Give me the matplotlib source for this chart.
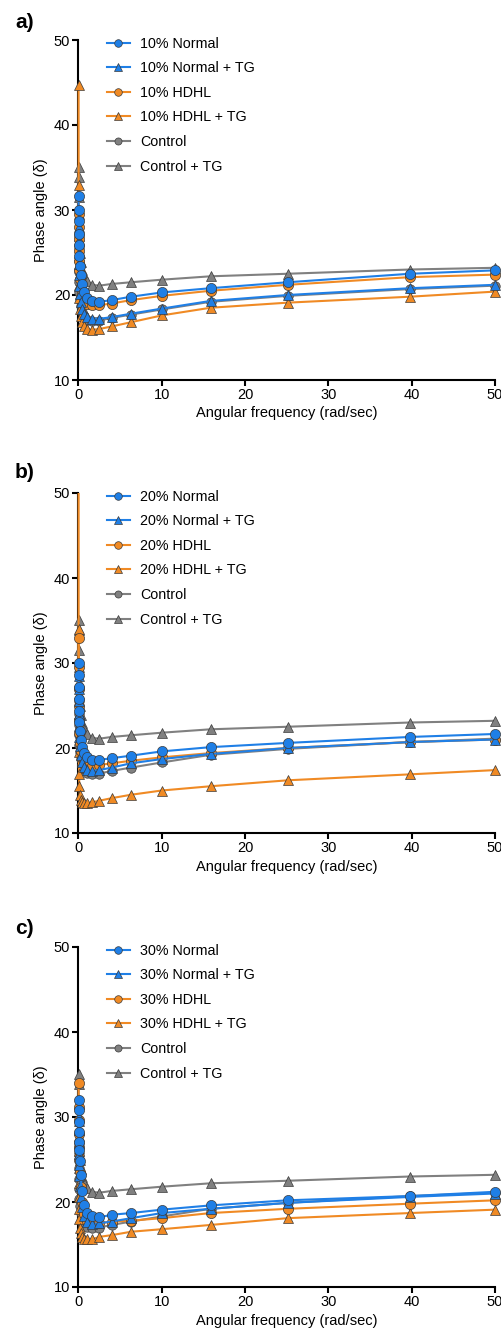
import matplotlib
matplotlib.use("Agg")
import matplotlib.pyplot as plt
from matplotlib.patches import Rectangle

plt.rcParams['font.family'] = ['Liberation Sans', 'DejaVu Sans']

# ---------------- data ----------------
freq = [0.01, 0.0158, 0.0251, 0.0398, 0.0631, 0.1, 0.158, 0.251, 0.398, 0.631,
        1.0, 1.585, 2.512, 3.981, 6.31, 10.0, 15.85, 25.12, 39.81, 50.0]

control = [27.0, 25.5, 24.0, 22.7, 21.5, 20.4, 19.5, 18.7, 18.0, 17.5,
           17.1, 17.0, 17.0, 17.3, 17.7, 18.3, 19.2, 19.9, 20.7, 21.1]
control_tg = [35.1, 33.9, 31.5, 29.5, 27.8, 26.3, 25.0, 23.9, 23.0, 22.2,
              21.6, 21.2, 21.1, 21.3, 21.5, 21.8, 22.2, 22.5, 23.0, 23.2]

# panel a (10 %)
a_normal = [31.6, 30.0, 28.7, 27.2, 25.9, 24.6, 23.4, 22.3, 21.3, 20.4,
            19.7, 19.3, 19.2, 19.4, 19.8, 20.3, 20.8, 21.5, 22.5, 22.9]
a_normal_tg = [28.0, 26.5, 25.0, 23.6, 22.3, 21.1, 20.1, 19.2, 18.4, 17.8,
               17.4, 17.2, 17.2, 17.4, 17.8, 18.4, 19.3, 20.0, 20.8, 21.2]
a_hdhl = [29.5, 28.0, 26.6, 25.2, 24.0, 22.9, 21.9, 21.0, 20.2, 19.5,
          19.0, 18.8, 18.8, 19.0, 19.4, 19.9, 20.5, 21.2, 22.1, 22.4]
a_hdhl_tg = [44.7, 33.0, 27.0, 23.5, 21.2, 19.6, 18.4, 17.5, 16.8, 16.3,
             16.0, 15.9, 16.0, 16.3, 16.8, 17.6, 18.5, 19.1, 19.8, 20.4]

# panel b (20 %)
b_normal = [30.0, 28.6, 27.2, 25.8, 24.4, 23.1, 22.0, 21.0, 20.1, 19.4,
            18.9, 18.6, 18.6, 18.8, 19.1, 19.6, 20.1, 20.6, 21.3, 21.65]
b_normal_tg = [28.5, 27.0, 25.5, 24.0, 22.6, 21.3, 20.2, 19.2, 18.4, 17.8,
               17.4, 17.3, 17.4, 17.7, 18.2, 18.7, 19.3, 20.0, 20.7, 21.0]
b_hdhl = [33.0, 29.5, 27.0, 25.0, 23.3, 21.8, 20.6, 19.6, 18.8, 18.3,
          18.0, 17.9, 18.0, 18.2, 18.5, 18.9, 19.4, 20.0, 20.7, 21.0]
b_hdhl_tg = [60.0, 34.0, 24.0, 19.5, 17.0, 15.5, 14.5, 13.9, 13.6, 13.5,
             13.5, 13.6, 13.8, 14.1, 14.5, 15.0, 15.5, 16.2, 16.9, 17.4]

# panel c (30 %)
c_normal = [32.0, 30.8, 29.4, 28.2, 27.1, 26.1, 24.8, 23.2, 21.3, 19.6,
            18.7, 18.3, 18.2, 18.5, 18.7, 19.1, 19.6, 20.2, 20.7, 21.2]
c_normal_tg = [30.0, 28.5, 27.0, 25.6, 24.3, 23.1, 21.9, 20.6, 19.4, 18.3,
               17.6, 17.4, 17.5, 17.7, 18.1, 18.7, 19.2, 19.9, 20.6, 21.0]
c_hdhl = [34.0, 31.2, 29.6, 28.0, 26.5, 25.0, 23.5, 21.8, 20.0, 18.6,
          17.8, 17.5, 17.5, 17.7, 17.8, 18.1, 18.7, 19.2, 19.8, 20.2]
c_hdhl_tg = [26.0, 24.0, 22.2, 20.6, 19.2, 18.0, 17.0, 16.3, 15.9, 15.7,
             15.6, 15.6, 15.9, 16.1, 16.5, 16.8, 17.3, 18.1, 18.7, 19.1]

panel_letters = ['a)', 'b)', 'c)']
panel_pcts = ['10%', '20%', '30%']
xticks = [0, 10, 20, 30, 40, 50]
yticks = [10, 20, 30, 40, 50]

BLUE = '#1f7fe6'
ORANGE = '#f08a24'
GRAY = '#808080'
EDGE = '#3a3a3a'

fig = plt.figure(figsize=(5.02, 13.33), dpi=100)
W, H = 502.0, 1333.0
ax_left = 78.5 / W
ax_w = (495 - 78.5) / W
ax_h = 340 / H
tops = [40, 493, 947]
label_y = [22, 472, 928]

panels = [
    (a_normal, a_normal_tg, a_hdhl, a_hdhl_tg),
    (b_normal, b_normal_tg, b_hdhl, b_hdhl_tg),
    (c_normal, c_normal_tg, c_hdhl, c_hdhl_tg),
]

for i, (normal, normal_tg, hdhl, hdhl_tg) in enumerate(panels):
    top = tops[i]
    ax = fig.add_axes([ax_left, (H - top - 340) / H, ax_w, ax_h])
    pct = panel_pcts[i]
    series = [
        (normal, BLUE, 'o', f'{pct} Normal', 7.3),
        (normal_tg, BLUE, '^', f'{pct} Normal + TG', 7.3),
        (hdhl, ORANGE, 'o', f'{pct} HDHL', 7.3),
        (hdhl_tg, ORANGE, '^', f'{pct} HDHL + TG', 7.3),
        (control, GRAY, 'o', 'Control', 6.8),
        (control_tg, GRAY, '^', 'Control + TG', 6.8),
    ]
    clip = Rectangle((-0.05, -0.05), 1.1, 1.05, transform=ax.transAxes,
                     facecolor='none', edgecolor='none')
    handles = []
    for k, (vals, col, mk, lab, ms) in enumerate(series):
        ln, = ax.plot(freq, vals, color=col, marker=mk, markersize=ms,
                      markeredgecolor=EDGE, markeredgewidth=0.5, linewidth=1.5,
                      label=lab, zorder=10 - k * 0.5 + (3 if col == BLUE else 0))
        ln.set_clip_path(clip)
        handles.append(ln)

    ax.set_xlim(0, 50)
    ax.set_ylim(10, 50)
    ax.set_xticks(xticks)
    ax.set_yticks(yticks)
    for s in ['top', 'right']:
        ax.spines[s].set_visible(False)
    for s in ['left', 'bottom']:
        ax.spines[s].set_linewidth(1.5)
    ax.tick_params(direction='out', length=4, width=1.5, labelsize=10.5, pad=2)
    ax.set_xlabel('Angular frequency (rad/sec)', fontsize=10.5, labelpad=3)
    ax.set_ylabel('Phase angle (δ)', fontsize=10.5, labelpad=4)

    leg = ax.legend(handles=handles, loc='upper left',
                    bbox_to_anchor=((107 - 78.5) / 416.5, 1.01),
                    frameon=False, fontsize=10.3, borderpad=0, borderaxespad=0,
                    handlelength=1.6, handletextpad=0.7, labelspacing=0.74,
                    markerscale=0.75)

    fig.text(15 / W, 1 - label_y[i] / H, panel_letters[i], fontsize=15,
             fontweight='bold', ha='left', va='center')

fig.savefig('out.png', dpi=100)
